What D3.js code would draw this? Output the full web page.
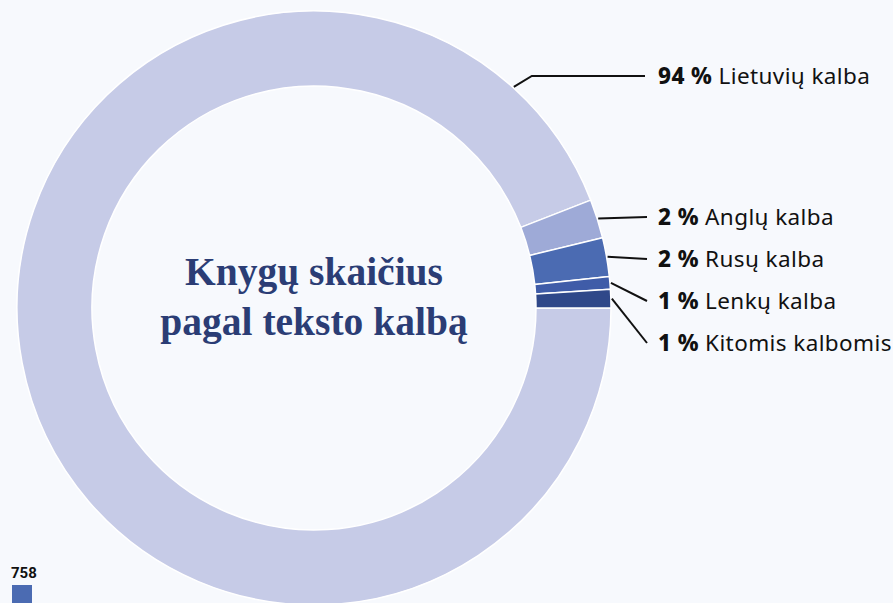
<!DOCTYPE html>
<html><head><meta charset="utf-8">
<script src="https://cdn.jsdelivr.net/npm/d3@7"></script>
<style>
html,body{margin:0;padding:0;background:#f7f9fd;}
svg{display:block;}
</style></head>
<body>
<svg id="chart" width="893" height="603"></svg>
<script>
// Data
const categories = ["Lietuvių kalba", "Anglų kalba", "Rusų kalba", "Lenkų kalba", "Kitomis kalbomis"];
const values = [3387, 76, 76, 25, 36];
const colors = ["#c6cbe7", "#9eaad7", "#4b6bb2", "#3f5ca8", "#2f4889"];
const titleLines = ["Knygų skaičius", "pagal teksto kalbą"];
const sideValue = "758";

const W = 893, H = 603;
const cx = 314, cy = 308, R = 297, r0 = 222;
const svg = d3.select("#chart");
svg.append("rect").attr("width", W).attr("height", H).attr("fill", "#f7f9fd");

const g = svg.append("g").attr("transform", `translate(${cx},${cy})`);
const pie = d3.pie().sort(null).value(d => d)
  .startAngle(Math.PI / 2).endAngle(Math.PI / 2 + 2 * Math.PI);
const arcs = pie(values);
const arc = d3.arc().innerRadius(r0).outerRadius(R);

g.selectAll("path.slice").data(arcs).enter().append("path")
  .attr("class", "slice")
  .attr("d", arc)
  .attr("fill", (d, i) => colors[i])
  .attr("stroke", "#ffffff")
  .attr("stroke-width", 1.5)
  .attr("stroke-linejoin", "round");

// Title
const title = svg.append("text")
  .attr("x", cx).attr("y", 285)
  .attr("text-anchor", "middle")
  .attr("fill", "#2b3d75")
  .style("font-family", "'Liberation Serif', 'DejaVu Serif', serif")
  .style("font-weight", "700")
  .style("font-size", "39.5px");
titleLines.forEach((t, i) => {
  title.append("tspan").attr("x", cx).attr("dy", i === 0 ? 0 : 50).text(t);
});

// Labels
const total = d3.sum(values);
const labelX = 658;
const labelBaselines = [84, 225, 267, 309, 351];
const lineEndX = 647;

const lab = svg.append("g");
arcs.forEach((a, i) => {
  const ly = labelBaselines[i] - 8;
  let pts;
  if (i === 0) {
    const ang = 0.735; // anchor angle (radians from 12 o'clock) for big slice leader
    const ax = cx + Math.sin(ang) * (R + 1), ay = cy - Math.cos(ang) * (R + 1);
    pts = [[ax, ay], [ax + 18, ly], [lineEndX - 2, ly]];
  } else {
    const m = (a.startAngle + a.endAngle) / 2;
    const ax = cx + Math.sin(m) * (R + 1), ay = cy - Math.cos(m) * (R + 1);
    pts = [[ax, ay], [lineEndX, ly]];
  }
  lab.append("path")
    .attr("d", d3.line()(pts))
    .attr("fill", "none")
    .attr("stroke", "#111")
    .attr("stroke-width", 2);
  const pct = Math.round(values[i] / total * 100);
  const t = lab.append("text")
    .attr("x", labelX).attr("y", labelBaselines[i])
    .attr("fill", "#111")
    .style("font-family", "'Noto Sans', 'Open Sans', sans-serif")
    .style("font-size", "22.5px")
    .style("letter-spacing", "0.4px");
  t.append("tspan").style("font-weight", "800").text(pct + " %");
  t.append("tspan").style("font-weight", "400").text(" " + categories[i]);
});

// Partial element at bottom-left
svg.append("text").attr("x", 11).attr("y", 578)
  .attr("fill", "#111")
  .style("font-family", "'Liberation Sans Narrow', 'Roboto', sans-serif")
  .style("font-weight", "700")
  .style("font-size", "15px")
  .text(sideValue);
svg.append("rect").attr("x", 12).attr("y", 585).attr("width", 20).attr("height", 18).attr("fill", "#4b6bb2");
</script>
</body></html>
